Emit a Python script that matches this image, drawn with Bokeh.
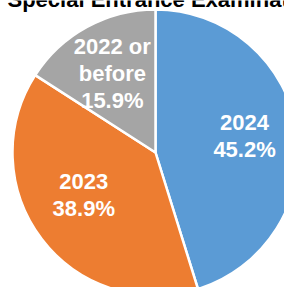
import math
from bokeh.plotting import figure
from bokeh.models import Range1d, ColumnDataSource
from bokeh.core.properties import value
from bokeh.embed import file_html
from bokeh.resources import INLINE

title_text = "Special Entrance Examination"
categories = ["2024", "2023", "2022 or\nbefore"]
shares = [45.2, 38.9, 15.9]
colors = ["#5B9BD5", "#ED7D31", "#A5A5A5"]

# layout / style
W, H = 284, 287
cx, cy, R = 155, 135, 143
label_r = 0.63
label_shift = [(0, 2.5), (0, 12.5), (0, 0)]

p = figure(width=W, height=H, output_backend="svg", toolbar_location=None,
           x_range=Range1d(0, W), y_range=Range1d(0, H), min_border=0,
           outline_line_color=None)
p.axis.visible = False
p.grid.visible = False
p.background_fill_color = "white"
p.border_fill_color = "white"

total = sum(shares)
starts, ends, lx, ly, labels = [], [], [], [], []
cum = 0.0
for (cat, s), (sx, sy) in zip(zip(categories, shares), label_shift):
    a0 = math.pi / 2 - 2 * math.pi * cum / total
    cum += s
    a1 = math.pi / 2 - 2 * math.pi * cum / total
    starts.append(a0)
    ends.append(a1)
    mid = (a0 + a1) / 2
    lx.append(cx + label_r * R * math.cos(mid) + sx)
    ly.append(cy + label_r * R * math.sin(mid) + sy)
    labels.append(f"{cat}\n{s:.1f}%")

src = ColumnDataSource(dict(start=starts, end=ends, color=colors,
                            x=lx, y=ly, label=labels))
p.wedge(x=cx, y=cy, radius=R, start_angle="start", end_angle="end",
        direction="clock", fill_color="color", line_color="white",
        line_width=2.5, source=src)
p.text(x="x", y="y", text="label", source=src, text_color="white",
       text_font=value("Liberation Sans"), text_font_style="bold",
       text_font_size="22px", text_align="center", text_baseline="middle",
       text_line_height=1.08)
p.text(x=[7], y=[H + 1], text=[title_text], text_color="black",
       text_font=value("Liberation Sans"), text_font_style="bold",
       text_font_size="22px", text_align="left", text_baseline="alphabetic")

open("out.html", "w").write(file_html(p, INLINE))
